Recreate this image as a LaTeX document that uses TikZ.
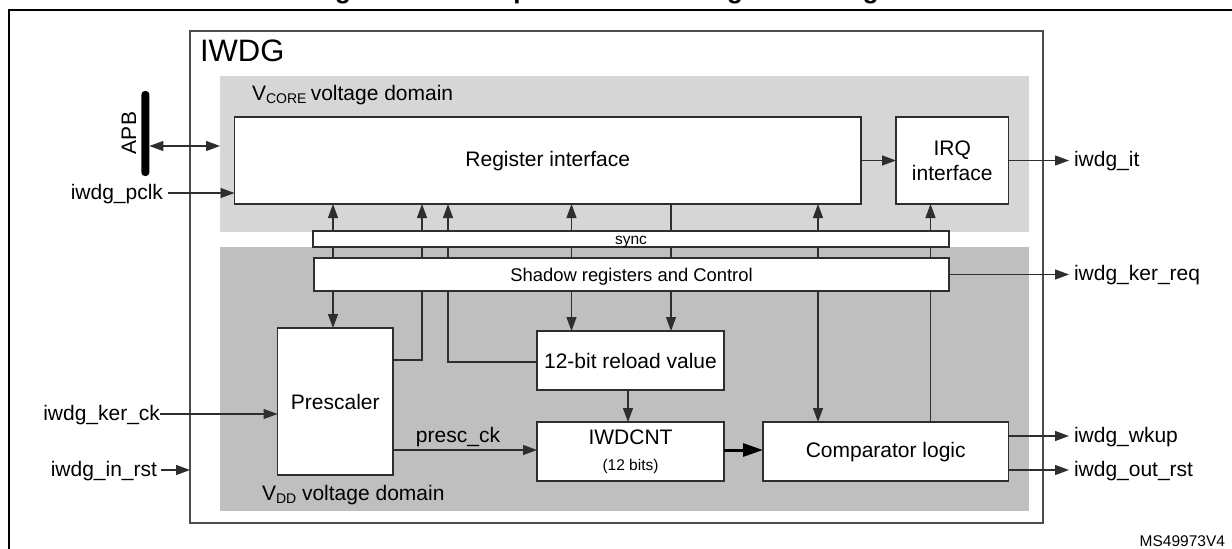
\documentclass[tikz,border=0pt]{standalone}
\usepackage{fontspec}
\setmainfont{Liberation Sans}
\usetikzlibrary{arrows.meta}
\newcommand{\fs}[1]{\fontsize{#1pt}{#1pt}\selectfont}
\newcommand{\subtxt}[1]{\raisebox{-3pt}{\fs{14}#1}}
\definecolor{linec}{HTML}{2E2E2E}
\tikzset{
  x=1pt,y=-1pt,
  domainbox/.style={draw=none,inner sep=0,outer sep=0},
  blockbox/.style={draw=linec,fill=white,line width=1.2pt,inner sep=0,outer sep=0,align=center,font=\fs{21}},
  wire/.style={draw=linec,line width=1.2pt},
  arr/.style={wire,-{Triangle[length=14pt,width=10pt]}},
  barr/.style={wire,{Triangle[length=14pt,width=10pt]}-{Triangle[length=14pt,width=10pt]}},
  thickarr/.style={draw=black,line width=3pt,-{Triangle[length=20pt,width=13pt]}},
  sig/.style={inner sep=0,outer sep=0,font=\fs{21},text depth=2.5pt},
  freetxt/.style={inner sep=0,outer sep=0,font=\fs{21}},
}
% name, x1, y1, x2, y2, style, text
\newcommand{\rectnode}[7]{%
  \node[#6,minimum width={(#4)-(#2)},minimum height={(#5)-(#3)}] (#1) at ({((#2)+(#4))/2},{((#3)+(#5))/2}) {#7};}
\begin{document}
\begin{tikzpicture}
\useasboundingbox (0,0) rectangle (1232,549);
\fill[white] (0,0) rectangle (1232,549);
% clipped title
\begin{scope}
\clip (0,0) rectangle (1232,549);
\node[inner sep=0,outer sep=0,anchor=base west,font=\fs{26}\bfseries] (title) at (312,-1.5)
  {Figure \hspace{54pt} Independent watchdog block diagram};
\end{scope}
% page frame
\draw[black,line width=2pt] (8.8,549) -- (8.8,9.5) -- (1232,9.5);
\rectnode{iwdg}{190}{31}{1043}{523}{draw=black!70,fill=white,line width=1.2pt,inner sep=0,outer sep=0}{}
\rectnode{vcore}{220}{76}{1029}{232}{domainbox,fill=black!16}{}
\rectnode{vdd}{220}{247}{1029}{511}{domainbox,fill=black!25}{}
\node[freetxt,anchor=west,font=\fs{31}] (iwdgt) at (200,51) {IWDG};
\node[freetxt,anchor=base west] (vcl) at (252,100) {V\subtxt{CORE}\hspace{-1.5pt} voltage domain};
\node[freetxt,anchor=base west] (vdl) at (262,500) {V\subtxt{DD} voltage domain};
% blocks
\rectnode{reg}{234.5}{117}{861}{204}{blockbox,text depth=2.5pt}{Register interface}
\rectnode{irq}{896}{117}{1008.5}{204}{blockbox}{IRQ\\[4pt]interface}
\rectnode{sync}{313}{231}{949}{247}{blockbox,font=\fs{15.5},text height=11pt,text depth=1pt}{sync}
\rectnode{shadow}{314}{258}{949}{291}{blockbox,font=\fs{18.4},text depth=0pt}{Shadow registers and Control}
\rectnode{pre}{277.5}{328}{393}{475}{blockbox}{Prescaler}
\rectnode{rel}{537}{331}{724}{390}{blockbox}{12-bit reload value}
\rectnode{cnt}{537}{422}{724}{481}{blockbox}{IWDCNT\\[5pt]{\fs{15.5}(12 bits)}}
\rectnode{cmp}{763}{422}{1008.5}{481}{blockbox,text depth=2.5pt}{Comparator logic}
% column coordinates
\coordinate (c1) at (333,300);
\coordinate (c2) at (422,300);
\coordinate (c3) at (448,300);
\coordinate (c4) at (571.5,300);
\coordinate (c5) at (671,300);
\coordinate (c6) at (818,300);
\coordinate (c7) at (930.5,300);
\coordinate (c8) at (628,300);
% sync to shadow links
\foreach \c in {c1,c2,c3,c4,c5,c6,c7}
  \draw[wire] (sync.south -| \c) -- (shadow.north -| \c);
% sync to register / IRQ
\foreach \c in {c1,c2,c3,c4,c6}
  \draw[arr] (sync.north -| \c) -- (reg.south -| \c);
\draw[wire] (reg.south -| c5) -- (sync.north -| c5);
\draw[arr] (sync.north -| c7) -- (irq.south -| c7);
% shadow downward
\draw[arr] (shadow.south -| c1) -- (pre.north -| c1);
\coordinate (pstub) at (393,360);
\coordinate (rstub) at (537,362);
\draw[wire] (pstub -| pre.east) -- (pstub -| c2) -- (shadow.south -| c2);
\draw[wire] (rstub -| rel.west) -- (rstub -| c3) -- (shadow.south -| c3);
\draw[arr] (shadow.south -| c4) -- (rel.north -| c4);
\draw[arr] (shadow.south -| c5) -- (rel.north -| c5);
\draw[arr] (shadow.south -| c6) -- (cmp.north -| c6);
\draw[wire] (cmp.north -| c7) -- (shadow.south -| c7);
\draw[arr] (rel.south -| c8) -- (cnt.north -| c8);
% internal horizontals
\draw[arr] (reg.east) -- (irq.west);
\coordinate (pc) at (393,450);
\draw[arr] (pc -| pre.east) -- (pc -| cnt.west);
\node[sig] (presc) at (458,436) {presc\_ck};
\draw[thickarr] (pc -| cnt.east) -- (pc -| cmp.west);
% APB
\node[fill=black,rounded corners=3.5pt,inner sep=0,outer sep=0,minimum width=8pt,minimum height=85pt] (apb) at (145.4,133.5) {};
\node[freetxt,rotate=90] (apbl) at (129,133) {APB};
\coordinate (ab) at (180,146);
\draw[barr] (apb.east |- ab) -- (vcore.west |- ab);
% left signals
\node[sig,anchor=east,inner xsep=5pt] (pclk) at (168,193) {iwdg\_pclk};
\draw[arr] (pclk.east) -- (reg.west |- pclk.east);
\node[sig,anchor=east] (kerck) at (160,414) {iwdg\_ker\_ck};
\draw[arr] (kerck.east) -- (pre.west |- kerck.east);
\node[sig,anchor=east,inner xsep=4pt] (inrst) at (161,470) {iwdg\_in\_rst};
\draw[arr] (inrst.east) -- (iwdg.west |- inrst.east);
% right signals
\node[sig,anchor=west,inner xsep=5pt] (it) at (1069,160.5) {iwdg\_it};
\draw[arr] (irq.east) -- (it.west);
\node[sig,anchor=west,inner xsep=5pt] (kerreq) at (1069,274.5) {iwdg\_ker\_req};
\draw[arr] (shadow.east) -- (kerreq.west);
\node[sig,anchor=west,inner xsep=5pt] (wkup) at (1069,436) {iwdg\_wkup};
\draw[arr] (cmp.east |- wkup.west) -- (wkup.west);
\node[sig,anchor=west,inner xsep=5pt] (outrst) at (1069,470) {iwdg\_out\_rst};
\draw[arr] (cmp.east |- outrst.west) -- (outrst.west);
\node[inner sep=0,outer sep=0,anchor=base east,font=\fs{15.5}] (ms) at (1225,546) {MS49973V4};
\end{tikzpicture}
\end{document}
